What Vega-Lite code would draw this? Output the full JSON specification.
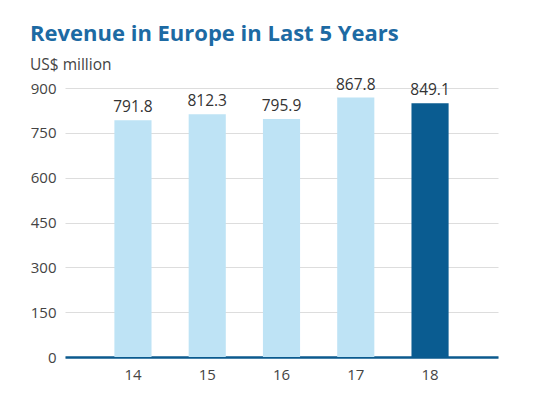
{
  "$schema": "https://vega.github.io/schema/vega-lite/v6.json",
  "width": 433,
  "height": 269,
  "autosize": {"type": "none"},
  "padding": {"left": 65, "top": 88, "right": 49, "bottom": 38},
  "background": "white",
  "config": {"view": {"stroke": null}},
  "title": {
    "text": "Revenue in Europe in Last 5 Years",
    "subtitle": "US$ million",
    "anchor": "start",
    "frame": "group",
    "dx": -35,
    "font": "Open Sans",
    "fontSize": 22,
    "fontWeight": "bold",
    "color": "#1d6aa3",
    "subtitleFont": "Open Sans",
    "subtitleFontSize": 15.5,
    "subtitleColor": "#444444",
    "subtitlePadding": 12,
    "offset": 3
  },
  "data": {
    "values": [
      {"year": "14", "value": 791.8, "latest": "no"},
      {"year": "15", "value": 812.3, "latest": "no"},
      {"year": "16", "value": 795.9, "latest": "no"},
      {"year": "17", "value": 867.8, "latest": "no"},
      {"year": "18", "value": 849.1, "latest": "yes"}
    ]
  },
  "encoding": {
    "x": {
      "field": "year",
      "type": "nominal",
      "sort": null,
      "scale": {"paddingInner": 0.5, "paddingOuter": 0.665},
      "axis": {
        "title": null,
        "labelAngle": 0,
        "ticks": false,
        "grid": false,
        "domainColor": "#0b5a8e",
        "domainWidth": 2.5,
        "labelFont": "Open Sans",
        "labelFontSize": 15,
        "labelColor": "#444444",
        "labelPadding": 10
      }
    },
    "y": {
      "field": "value",
      "type": "quantitative",
      "scale": {"domain": [0, 900]},
      "axis": {
        "title": null,
        "values": [0, 150, 300, 450, 600, 750, 900],
        "domain": false,
        "ticks": false,
        "gridColor": "#dddddd",
        "gridWidth": 1,
        "labelFont": "Open Sans",
        "labelFontSize": 15,
        "labelColor": "#444444",
        "labelPadding": 9
      }
    }
  },
  "layer": [
    {
      "mark": {"type": "bar"},
      "encoding": {
        "color": {
          "field": "latest",
          "type": "nominal",
          "scale": {"domain": ["no", "yes"], "range": ["#bee3f5", "#0a5c91"]},
          "legend": null
        }
      }
    },
    {
      "mark": {"type": "text", "baseline": "bottom", "dy": -5, "font": "Open Sans", "fontSize": 15.5, "color": "#333333"},
      "encoding": {
        "text": {"field": "value", "type": "quantitative", "format": ".1f"}
      }
    }
  ]
}
